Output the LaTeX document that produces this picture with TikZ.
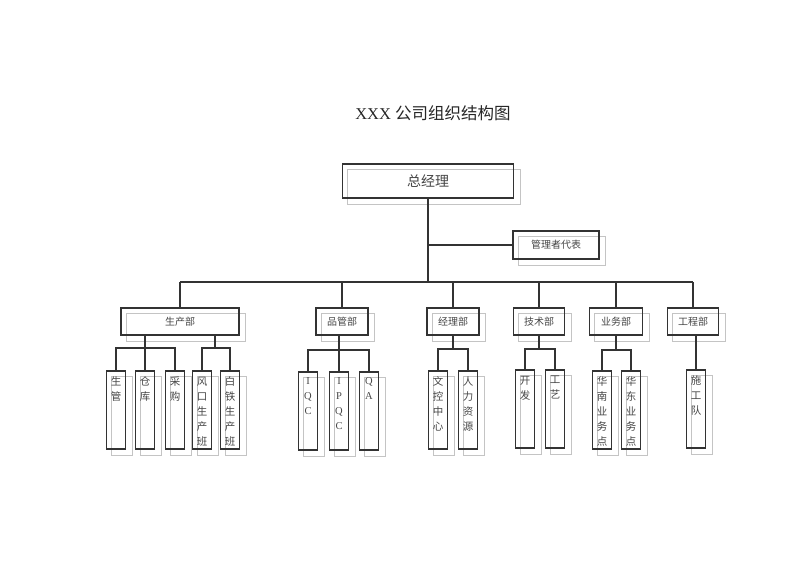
\documentclass[tikz,border=0pt]{standalone}
\usepackage{fontspec}
\setmainfont{Liberation Serif}
\newfontfamily\cjk{Noto Sans CJK SC}
\usetikzlibrary{positioning,calc,backgrounds}
\definecolor{orgline}{HTML}{333333}
\definecolor{orgshade}{HTML}{C4C4C4}
\definecolor{orgtext}{HTML}{454545}
\newcommand{\coltext}[1]{\parbox[c][66pt][t]{19pt}{\centering #1}}

\begin{document}
\begin{tikzpicture}[
  x=1pt, y=-1pt,
  head/.style={
    draw=orgline, line width=1.4pt, inner sep=0pt,
    font=\cjk\fontsize{10}{12}\selectfont, text=orgtext
  },
  dept/.style={head, minimum height=27pt},
  unit/.style={
    draw=orgline, line width=1.4pt, inner sep=0pt,
    minimum width=19.5pt, minimum height=78pt,
    font=\cjk\fontsize{10.5}{15}\selectfont, text=orgtext
  },
  unitlat/.style={unit, font=\fontsize{10.5}{15}\selectfont},
  ghost/.style={draw=orgshade, line width=0.8pt},
  link/.style={orgline, line width=1.3pt},
]
  \useasboundingbox (0,0) rectangle (800,566);

  % Title
  \node[font=\fontsize{16.5}{20}\selectfont, text=black!85] (title) at (433,113)
    {XXX {\cjk 公司组织结构图}};

  % Top of the chart
  \node[head, minimum width=171pt, minimum height=34pt,
        font=\cjk\fontsize{14}{16}\selectfont] (gm) at (428,181) {总经理};
  \node[head, minimum width=86pt, minimum height=28pt] (rep) at (556,245) {管理者代表};

  % Departments
  \node[dept, minimum width=118pt] (prod) at (180,321.5) {生产部};
  \node[dept, minimum width=52pt]  (qc)   at (342,321.5) {品管部};
  \node[dept, minimum width=52pt]  (mgr)  at (453,321.5) {经理部};
  \node[dept, minimum width=51pt]  (tech) at (539,321.5) {技术部};
  \node[dept, minimum width=53pt]  (biz)  at (616,321.5) {业务部};
  \node[dept, minimum width=51pt]  (eng)  at (693,321.5) {工程部};

  % Units under the departments
  \node[unit] (sg) at (116,410) {\coltext{生\\管}};
  \node[unit] (kc) at (145,410) {\coltext{仓\\库}};
  \node[unit] (cg) at (175,410) {\coltext{采\\购}};
  \node[unit] (fk) at (202,410) {\coltext{风\\口\\生\\产\\班}};
  \node[unit] (bt) at (230,410) {\coltext{白\\铁\\生\\产\\班}};

  \node[unitlat] (iqc)  at (308,411) {\coltext{I\\Q\\C}};
  \node[unitlat] (ipqc) at (339,411) {\coltext{I\\P\\Q\\C}};
  \node[unitlat] (qa)   at (369,411) {\coltext{Q\\A}};

  \node[unit] (wk) at (438,410) {\coltext{文\\控\\中\\心}};
  \node[unit] (rl) at (468,410) {\coltext{人\\力\\资\\源}};

  \node[unit] (kf) at (525,409) {\coltext{开\\发}};
  \node[unit] (gy) at (555,409) {\coltext{工\\艺}};

  \node[unit] (hn) at (602,410) {\coltext{华\\南\\业\\务\\点}};
  \node[unit] (hd) at (631,410) {\coltext{华\\东\\业\\务\\点}};

  \node[unit] (team) at (696,409) {\coltext{施\\工\\队}};

  % Grey offset frames behind every box
  \begin{scope}[on background layer]
    \foreach \n in {gm,rep,prod,qc,mgr,tech,biz,eng,sg,kc,cg,fk,bt,
                    iqc,ipqc,qa,wk,rl,kf,gy,hn,hd,team} {
      \draw[ghost] ([shift={(6,6)}]\n.south west) rectangle ([shift={(6,6)}]\n.north east);
    }
  \end{scope}

  % Trunk and main bus
  \coordinate (bus) at (428,282);
  \draw[link] (gm.south) -- (bus);
  \draw[link] (gm.south |- rep.west) -- (rep.west);
  \draw[link] (prod.north |- bus) -- (eng.north |- bus);
  \foreach \d in {prod,qc,mgr,tech,biz,eng} {
    \draw[link] (\d.north |- bus) -- (\d.north);
  }

  % Branches to the units
  \coordinate (barA) at (145,348);
  \coordinate (barB) at (215,348);
  \draw[link] (prod.south -| kc.north) -- (kc.north);
  \draw[link] (sg.north) |- (barA) -| (cg.north);
  \draw[link] (prod.south -| barB) -- (barB);
  \draw[link] (fk.north) |- (barB) -| (bt.north);

  \coordinate (barQ) at (339,350);
  \draw[link] (qc.south -| barQ) -- (ipqc.north);
  \draw[link] (iqc.north) |- (barQ) -| (qa.north);

  \coordinate (barM) at (453,349);
  \draw[link] (mgr.south) -- (barM);
  \draw[link] (wk.north) |- (barM) -| (rl.north);

  \coordinate (barT) at (539,349);
  \draw[link] (tech.south -| barT) -- (barT);
  \draw[link] (kf.north) |- (barT) -| (gy.north);

  \coordinate (barS) at (616,350);
  \draw[link] (biz.south -| barS) -- (barS);
  \draw[link] (hn.north) |- (barS) -| (hd.north);

  \draw[link] (eng.south -| team.north) -- (team.north);

\end{tikzpicture}
\end{document}
